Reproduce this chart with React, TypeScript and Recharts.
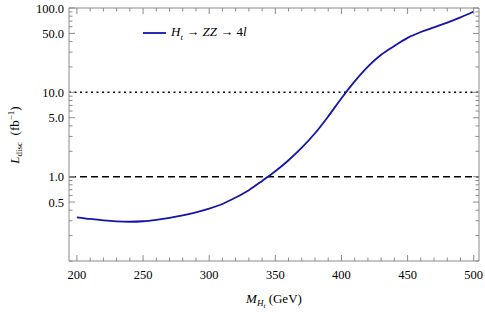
import React from "react";
import { LineChart, Line, XAxis, YAxis, ReferenceLine, Label } from "recharts";

// Higgs mass points (GeV) and discovery luminosity (fb^-1)
const MASS = [
  200, 210, 220, 230, 240, 250, 260, 270, 280, 290, 300, 310, 320, 330, 340,
  350, 360, 370, 380, 390, 400, 410, 420, 430, 440, 450, 460, 470, 480, 490,
  500,
];
const L_DISC = [
  0.33, 0.315, 0.303, 0.295, 0.292, 0.296, 0.308, 0.325, 0.348, 0.378, 0.418,
  0.474, 0.565, 0.692, 0.891, 1.161, 1.567, 2.203, 3.27, 5.19, 8.51, 13.49,
  20.2, 27.9, 35.5, 44.2, 51.9, 59.0, 67.0, 77.3, 90.8,
];

const X_TICKS = [
  200, 210, 220, 230, 240, 250, 260, 270, 280, 290, 300, 310, 320, 330, 340,
  350, 360, 370, 380, 390, 400, 410, 420, 430, 440, 450, 460, 470, 480, 490,
  500,
];
const X_LABELS = [200, 250, 300, 350, 400, 450, 500];
const Y_TICKS = [
  0.1, 0.2, 0.3, 0.4, 0.5, 0.6, 0.7, 0.8, 0.9, 1, 2, 3, 4, 5, 6, 7, 8, 9, 10,
  20, 30, 40, 50, 60, 70, 80, 90, 100,
];
const Y_LABELS = [0.5, 1, 5, 10, 50, 100];

const data = MASS.map((m, i) => ({ m, l: L_DISC[i] }));

const FONT = '"Liberation Serif", "DejaVu Serif", serif';
const FRAME = "#8a8a8a";
const BLUE = "#1414a8";
const MAJOR = 6;
const MINOR = 3.5;

const BottomTick = (props: any) => {
  const { x, y, payload } = props;
  const major = X_LABELS.includes(payload.value);
  return (
    <g>
      <line x1={x} x2={x} y1={y} y2={y - (major ? MAJOR : MINOR)} stroke={FRAME} />
      {major && (
        <text x={x} y={y + 18} textAnchor="middle" fontSize={12.5} fontFamily={FONT} fill="#000">
          {payload.value}
        </text>
      )}
    </g>
  );
};

const TopTick = (props: any) => {
  const { x, y, payload } = props;
  const major = X_LABELS.includes(payload.value);
  return <line x1={x} x2={x} y1={y} y2={y + (major ? MAJOR : MINOR)} stroke={FRAME} />;
};

const LeftTick = (props: any) => {
  const { x, y, payload } = props;
  const major = Y_LABELS.includes(payload.value);
  return (
    <g>
      <line x1={x} x2={x + (major ? MAJOR : MINOR)} y1={y} y2={y} stroke={FRAME} />
      {major && (
        <text x={x - 5} y={y + 4.5} textAnchor="end" fontSize={12.5} fontFamily={FONT} fill="#000">
          {payload.value.toFixed(1)}
        </text>
      )}
    </g>
  );
};

const RightTick = (props: any) => {
  const { x, y, payload } = props;
  const major = Y_LABELS.includes(payload.value);
  return <line x1={x} x2={x - (major ? MAJOR : MINOR)} y1={y} y2={y} stroke={FRAME} />;
};

export default function App() {
  return (
    <div style={{ position: "absolute", left: 0, top: 0, width: 485, height: 312 }}>
      <LineChart
        width={485}
        height={312}
        data={data}
        margin={{ top: 7, right: 5, bottom: 0, left: 0 }}
      >
        <XAxis
          dataKey="m"
          type="number"
          domain={[194, 504]}
          allowDataOverflow
          ticks={X_TICKS}
          interval={0}
          height={51}
          tickSize={0}
          tickMargin={0}
          tickLine={false}
          axisLine={{ stroke: FRAME }}
          tick={BottomTick}
        >
          <Label
            content={() => (
              <text x={274} y={303} textAnchor="middle" fontFamily={FONT} fontSize={13} fill="#000">
                <tspan fontStyle="italic">M</tspan>
                <tspan fontStyle="italic" fontSize={9} dy={3}>H</tspan>
                <tspan fontStyle="italic" fontSize={7} dy={2}>t</tspan>
                <tspan dy={-5}> (GeV)</tspan>
              </text>
            )}
          />
        </XAxis>
        <XAxis
          xAxisId="top"
          orientation="top"
          dataKey="m"
          type="number"
          domain={[194, 504]}
          allowDataOverflow
          ticks={X_TICKS}
          interval={0}
          height={1}
          tickSize={0}
          tickMargin={0}
          tickLine={false}
          axisLine={{ stroke: FRAME }}
          tick={TopTick}
        />
        <YAxis
          scale="log"
          type="number"
          domain={[0.1, 100]}
          allowDataOverflow
          ticks={Y_TICKS}
          interval={0}
          width={69}
          tickSize={0}
          tickMargin={0}
          tickLine={false}
          axisLine={{ stroke: FRAME }}
          tick={LeftTick}
        >
          <Label
            content={() => (
              <text
                transform="rotate(-90)"
                x={-135}
                y={19}
                textAnchor="middle"
                fontFamily={FONT}
                fontSize={13}
                fill="#000"
              >
                <tspan fontStyle="italic">L</tspan>
                <tspan fontSize={9} dy={3}>disc</tspan>
                <tspan dy={-3}>{"\u00a0\u00a0(fb"}</tspan>
                <tspan fontSize={9} dy={-5}>−1</tspan>
                <tspan dy={5}>)</tspan>
              </text>
            )}
          />
        </YAxis>
        <YAxis
          yAxisId="right"
          orientation="right"
          scale="log"
          type="number"
          domain={[0.1, 100]}
          allowDataOverflow
          ticks={Y_TICKS}
          interval={0}
          width={1}
          tickSize={0}
          tickMargin={0}
          tickLine={false}
          axisLine={{ stroke: FRAME }}
          tick={RightTick}
        />
        <ReferenceLine y={10} stroke="#000" strokeWidth={1.5} strokeDasharray="2 3.5" />
        <ReferenceLine y={1} stroke="#000" strokeWidth={1.5} strokeDasharray="7 4" />
        <Line
          dataKey="l"
          type="monotone"
          stroke={BLUE}
          strokeWidth={1.8}
          dot={false}
          isAnimationActive={false}
        />
      </LineChart>
      <div
        style={{
          position: "absolute",
          left: 143,
          top: 24,
          display: "flex",
          alignItems: "center",
          fontFamily: FONT,
          fontSize: 13,
          whiteSpace: "nowrap",
        }}
      >
        <svg width={23} height={10} style={{ marginRight: 5 }}>
          <line x1={0} x2={23} y1={5} y2={5} stroke={BLUE} strokeWidth={1.8} />
        </svg>
        <span>
          <i>H</i>
          <sub style={{ fontSize: 9, fontStyle: "italic" }}>t</sub> → <i>ZZ</i> → 4<i>l</i>
        </span>
      </div>
    </div>
  );
}
